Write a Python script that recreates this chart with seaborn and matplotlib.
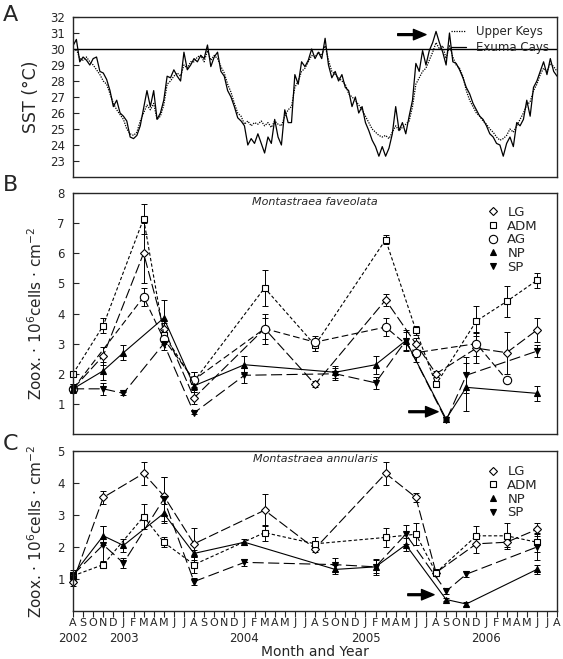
import numpy as np
import seaborn as sns
import matplotlib
matplotlib.use("Agg")
import matplotlib.pyplot as plt
import matplotlib.transforms as mtransforms
from matplotlib.lines import Line2D

sns.set_style("ticks")
plt.rcParams['font.family'] = ['DejaVu Sans']

# x axis: month index, 0 = Aug 2002 ... 48 = Aug 2006
month_letters = list("ASONDJFMAMJJ") * 4 + ["A"]
year_pos = [0, 5, 17, 29, 41]
year_names = ["2002", "2003", "2004", "2005", "2006"]

# ---- panel A: SST, one reading every ~10 days ----
sst_upper_keys = [
    29.8, 30.0, 29.4, 29.3, 29.5, 29.2, 29.0, 28.7, 28.4, 28.0, 27.8, 27.2,
    26.6, 26.2, 25.9, 25.6, 25.0, 24.7, 24.6, 24.8, 25.5, 26.0, 26.5, 26.2,
    26.6, 25.6, 25.8, 26.5, 27.8, 28.0, 28.3, 28.5, 28.3, 29.0, 28.8, 29.2,
    29.2, 29.5, 29.6, 29.2, 29.9, 29.3, 29.6, 29.4, 28.9, 28.5, 27.8, 27.3,
    26.6, 26.0, 25.8, 25.3, 25.5, 25.2, 25.4, 25.3, 25.5, 25.2, 25.4, 25.1,
    25.5, 25.3, 25.2, 25.8, 26.2, 26.4, 27.6, 28.0, 28.6, 28.8, 29.2, 29.6,
    29.5, 29.8, 29.6, 30.2, 29.3, 28.6, 28.4, 28.2, 28.0, 27.8, 27.2, 27.0,
    26.8, 26.5, 26.2, 25.8, 25.4, 25.0, 24.8, 24.6, 24.5, 24.6, 24.4, 24.8,
    25.2, 24.9, 25.1, 25.3, 25.5, 26.4, 27.8, 28.2, 28.6, 28.8, 29.3, 29.8,
    30.4, 30.0, 30.2, 29.4, 30.2, 29.5, 29.0, 28.8, 28.3, 27.4, 26.8, 26.4,
    26.0, 25.8, 25.5, 25.3, 25.0, 24.8, 24.5, 24.3, 24.4, 24.6, 25.0, 24.8,
    25.2, 25.6, 26.0, 26.5, 26.7, 27.4, 27.8, 28.4, 28.8, 28.6, 29.1, 28.9,
    28.6,
]
sst_exuma = [
    30.2, 30.6, 29.2, 29.5, 29.3, 29.0, 29.4, 29.5, 28.6, 28.5, 28.1, 27.4,
    26.4, 26.8, 26.0, 25.8, 25.5, 24.5, 24.4, 24.6, 25.2, 26.3, 27.4, 26.4,
    27.4, 25.6, 26.0, 26.8, 28.3, 28.2, 28.7, 28.3, 28.0, 29.8, 28.7, 29.0,
    29.4, 29.2, 29.6, 29.4, 30.25, 28.9, 29.5, 29.8, 28.6, 28.3, 27.4, 27.0,
    26.4, 25.7, 25.5, 25.2, 24.0, 24.4, 24.1, 24.7, 24.1, 23.5, 24.5, 24.1,
    25.6, 24.5, 24.0, 26.2, 25.4, 25.4, 28.4, 27.8, 29.2, 28.9, 29.3, 30.0,
    29.4, 29.8, 29.4, 30.67, 29.0, 28.2, 28.6, 28.0, 28.4, 27.6, 27.4, 26.4,
    27.0, 26.0, 26.4, 25.4, 24.9, 24.3, 23.9, 23.3, 23.9, 23.3, 23.8, 24.7,
    26.4, 24.9, 25.4, 24.7, 25.8, 26.8, 29.1, 28.6, 29.9, 29.0, 29.9, 30.4,
    31.1, 30.4, 29.8, 29.0, 31.0, 29.2, 29.1, 28.7, 28.2, 27.6, 27.2, 26.6,
    26.2, 25.8, 25.6, 25.2, 24.7, 24.5, 24.1, 24.0, 23.3, 24.1, 24.5, 23.9,
    25.4, 25.2, 25.6, 26.8, 25.8, 27.6, 28.0, 28.6, 29.2, 28.4, 29.4, 28.6,
    28.3,
]
sst_time = np.arange(len(sst_exuma)) / 3.0

# ---- panel B: Montastraea faveolata ----
fav_LG_m = [0, 3, 7, 9, 12, 19, 24, 31, 34, 36, 40, 43, 46]
fav_LG = [1.5, 2.6, 6.0, 3.5, 1.2, 3.5, 1.65, 4.45, 3.0, 2.0, 2.85, 2.7, 3.45]
fav_LG_err = [0.15, 0.3, 1.0, 0.2, 0.2, 0.5, 0.1, 0.2, 0.2, 0.1, 0.5, 0.7, 0.4]

fav_ADM_m = [0, 3, 7, 9, 12, 19, 24, 31, 34, 36, 40, 43, 46]
fav_ADM = [2.0, 3.6, 7.15, 3.3, 1.75, 4.85, 2.95, 6.45, 3.45, 1.65, 3.75, 4.4, 5.1]
fav_ADM_err = [0.1, 0.25, 0.5, 0.15, 0.3, 0.6, 0.2, 0.15, 0.15, 0.1, 0.5, 0.5, 0.25]

fav_AG_m = [0, 7, 9, 12, 19, 24, 31, 34, 40, 43]
fav_AG = [1.5, 4.55, 3.15, 1.8, 3.5, 3.05, 3.55, 2.7, 3.0, 1.8]
fav_AG_err = [0.15, 0.3, 0.15, 0.25, 0.35, 0.2, 0.3, 0.3, 0.4, 0.1]

fav_NP_m = [0, 3, 5, 9, 12, 17, 26, 30, 33, 37, 39, 46]
fav_NP = [1.5, 2.1, 2.7, 3.85, 1.6, 2.3, 2.05, 2.3, 3.1, 0.5, 1.55, 1.35]
fav_NP_err = [0.1, 0.3, 0.25, 0.6, 0.2, 0.3, 0.2, 0.3, 0.35, 0.05, 0.8, 0.25]

fav_SP_m = [0, 3, 5, 9, 12, 17, 26, 30, 33, 37, 39, 46]
fav_SP = [1.5, 1.5, 1.35, 3.0, 0.7, 1.95, 2.0, 1.7, 3.1, 0.45, 1.95, 2.75]
fav_SP_err = [0.1, 0.2, 0.05, 0.2, 0.05, 0.25, 0.2, 0.2, 0.3, 0.05, 0.6, 0.2]

# ---- panel C: Montastraea annularis ----
ann_LG_m = [0, 3, 7, 9, 12, 19, 24, 31, 34, 36, 40, 43, 46]
ann_LG = [0.92, 3.55, 4.3, 3.6, 2.1, 3.15, 1.95, 4.3, 3.55, 1.2, 2.1, 2.15, 2.55]
ann_LG_err = [0.15, 0.2, 0.35, 0.6, 0.5, 0.5, 0.1, 0.35, 0.15, 0.1, 0.3, 0.15, 0.2]

ann_ADM_m = [0, 3, 7, 9, 12, 19, 24, 31, 34, 36, 40, 43, 46]
ann_ADM = [1.1, 1.45, 2.95, 2.15, 1.45, 2.45, 2.1, 2.3, 2.4, 1.2, 2.35, 2.35, 2.15]
ann_ADM_err = [0.1, 0.1, 0.4, 0.15, 0.25, 0.25, 0.2, 0.3, 0.35, 0.1, 0.3, 0.4, 0.3]

ann_NP_m = [0, 3, 5, 9, 12, 17, 26, 30, 33, 37, 39, 46]
ann_NP = [1.13, 2.35, 2.05, 3.05, 1.8, 2.15, 1.3, 1.38, 2.07, 0.36, 0.22, 1.3]
ann_NP_err = [0.1, 0.3, 0.2, 0.3, 0.1, 0.1, 0.15, 0.2, 0.2, 0.05, 0.05, 0.15]

ann_SP_m = [0, 3, 5, 9, 12, 17, 26, 30, 33, 37, 39, 46]
ann_SP = [1.13, 2.07, 1.5, 3.5, 0.92, 1.52, 1.45, 1.38, 2.4, 0.62, 1.15, 2.0]
ann_SP_err = [0.15, 0.6, 0.15, 0.7, 0.1, 0.1, 0.2, 0.25, 0.3, 0.1, 0.1, 0.4]

# site styles: marker, marker size, face colour, dashes
styles = {
    "LG":  ("D", 4.0, "white", (0, (9, 3))),
    "ADM": ("s", 4.2, "white", (0, (3, 2))),
    "AG":  ("o", 6.0, "white", (0, (6, 3))),
    "NP":  ("^", 5.0, "black", "-"),
    "SP":  ("v", 5.0, "black", (0, (10, 4))),
}

fig = plt.figure(figsize=(5.63, 6.59), dpi=100)
axA = fig.add_axes([0.1297, 0.7314, 0.8597, 0.2428])
axB = fig.add_axes([0.1297, 0.3414, 0.8597, 0.3657])
axC = fig.add_axes([0.1297, 0.0728, 0.8597, 0.2428])

arrow_kw = dict(facecolor="k", edgecolor="k", width=1.3, headwidth=7.5,
                headlength=9, shrink=0)

# panel A
sns.lineplot(x=sst_time, y=sst_upper_keys, ax=axA, color="k", lw=0.9,
             linestyle=(0, (1, 1)))
sns.lineplot(x=sst_time, y=sst_exuma, ax=axA, color="k", lw=0.9)
axA.axhline(30, color="k", lw=1.0)
axA.set_ylim(22, 32)
axA.set_yticks(range(23, 33))
axA.set_ylabel("SST (°C)", fontsize=12.5, labelpad=7)
axA.annotate("", xy=(35.0, 30.9), xytext=(32.2, 30.9), arrowprops=arrow_kw)
axA.legend(handles=[Line2D([], [], color="k", lw=0.9, ls=(0, (1, 1))),
                    Line2D([], [], color="k", lw=0.9)],
           labels=["Upper Keys", "Exuma Cays"], loc="upper right",
           bbox_to_anchor=(1.0, 1.0), frameon=False, fontsize=8.5,
           handlelength=1.3, labelspacing=0.25, handletextpad=0.8,
           borderaxespad=0.3)


def draw_site(ax, name, months, vals, errs):
    marker, ms, face, ls = styles[name]
    ax.errorbar(months, vals, yerr=errs, fmt="none", ecolor="k",
                elinewidth=0.7, capsize=2.2, capthick=0.7, zorder=1.5,
                clip_on=False)
    sns.lineplot(x=months, y=vals, ax=ax, color="k", lw=0.8, linestyle=ls,
                 marker=marker, markersize=ms, mfc=face, mec="k", mew=0.8,
                 clip_on=False, zorder=2)


def site_legend(ax, names, anchor):
    handles = []
    for n in names:
        marker, ms, face, ls = styles[n]
        handles.append(Line2D([], [], ls="none", marker=marker, markersize=ms,
                              mfc=face, mec="k", mew=0.8))
    ax.legend(handles=handles, labels=names, loc="upper right",
              bbox_to_anchor=anchor, frameon=False, fontsize=9.5,
              handlelength=1.0, labelspacing=0.05, handletextpad=0.6)


# panel B
draw_site(axB, "LG", fav_LG_m, fav_LG, fav_LG_err)
draw_site(axB, "ADM", fav_ADM_m, fav_ADM, fav_ADM_err)
draw_site(axB, "AG", fav_AG_m, fav_AG, fav_AG_err)
draw_site(axB, "NP", fav_NP_m, fav_NP, fav_NP_err)
draw_site(axB, "SP", fav_SP_m, fav_SP, fav_SP_err)
axB.set_ylim(0, 8)
axB.set_yticks(range(1, 9))
axB.set_ylabel("Zoox. · 10$^{6}$cells · cm$^{-2}$", fontsize=11, labelpad=9)
axB.text(0.5, 0.963, "Montastraea faveolata", transform=axB.transAxes,
         ha="center", va="center", style="italic", fontsize=8)
axB.annotate("", xy=(36.2, 0.74), xytext=(33.3, 0.74), arrowprops=arrow_kw)
site_legend(axB, ["LG", "ADM", "AG", "NP", "SP"], (0.985, 0.995))

# panel C
draw_site(axC, "LG", ann_LG_m, ann_LG, ann_LG_err)
draw_site(axC, "ADM", ann_ADM_m, ann_ADM, ann_ADM_err)
draw_site(axC, "NP", ann_NP_m, ann_NP, ann_NP_err)
draw_site(axC, "SP", ann_SP_m, ann_SP, ann_SP_err)
axC.set_ylim(0, 5)
axC.set_yticks(range(1, 6))
axC.set_ylabel("Zoox. · 10$^{6}$cells · cm$^{-2}$", fontsize=11, labelpad=9)
axC.text(0.5, 0.95, "Montastraea annularis", transform=axC.transAxes,
         ha="center", va="center", style="italic", fontsize=8)
axC.annotate("", xy=(35.8, 0.51), xytext=(33.2, 0.51), arrowprops=arrow_kw)
site_legend(axC, ["LG", "ADM", "NP", "SP"], (0.985, 0.985))

axC.set_xticks(range(len(month_letters)))
axC.set_xticklabels(month_letters, fontsize=8)
axC.tick_params(axis="x", direction="out", length=4, width=0.8, pad=1.0)
year_tr = mtransforms.blended_transform_factory(axC.transData, axC.transAxes)
for pos, name in zip(year_pos, year_names):
    axC.text(pos, -0.128, name, transform=year_tr, ha="center", va="top",
             fontsize=8.5)
axC.set_xlabel("Month and Year", fontsize=10)
axC.xaxis.set_label_coords(0.5, -0.215)

for ax in (axA, axB, axC):
    ax.set_xlim(0, 48)
    ax.tick_params(axis="y", direction="in", length=4, width=0.8,
                   labelsize=8.5, pad=6)
    for sp in ax.spines.values():
        sp.set_linewidth(1.0)
        sp.set_visible(True)
for ax in (axA, axB):
    ax.set_xticks([])
    ax.set_xlabel("")

for letter, y in (("A", 0.977), ("B", 0.72), ("C", 0.326)):
    fig.text(0.018, y, letter, fontsize=16, ha="center", va="center")

fig.savefig("out.png", dpi=100)
